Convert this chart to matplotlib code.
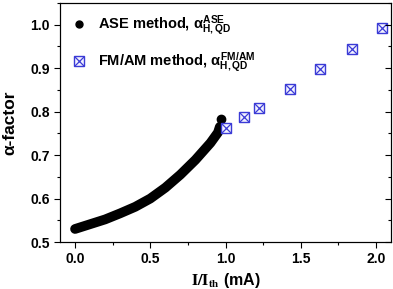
import matplotlib
matplotlib.use('Agg')
import matplotlib.pyplot as plt
from matplotlib.legend_handler import HandlerTuple
from matplotlib.ticker import MultipleLocator

plt.rcParams['font.family'] = ['Liberation Sans', 'DejaVu Sans']
plt.rcParams['font.weight'] = 'bold'
plt.rcParams['mathtext.fontset'] = 'custom'
plt.rcParams['mathtext.rm'] = 'Liberation Sans:bold'
plt.rcParams['mathtext.it'] = 'Liberation Sans:bold'
plt.rcParams['mathtext.bf'] = 'Liberation Sans:bold'

# ASE method curve
ase_x = [0.0, 0.1, 0.2, 0.3, 0.4, 0.5, 0.6, 0.7, 0.8, 0.9, 0.95, 0.962]
ase_y = [0.530, 0.541, 0.552, 0.566, 0.581, 0.600, 0.625, 0.655, 0.689, 0.728, 0.752, 0.765]
ase_end_x = [0.973]
ase_end_y = [0.783]

# FM/AM method points
fm_x = [1.00, 1.12, 1.22, 1.43, 1.63, 1.84, 2.04]
fm_y = [0.763, 0.787, 0.809, 0.851, 0.898, 0.945, 0.993]

fig = plt.figure(figsize=(3.93, 2.89), dpi=100)
ax = fig.add_axes([0.1527, 0.1626, 0.8422, 0.827])

ax.plot(ase_x, ase_y, color='black', lw=7, solid_capstyle='round',
        solid_joinstyle='round', zorder=2)
ax.plot(ase_end_x, ase_end_y, 'o', color='black', ms=6, zorder=3)

blue = '#3b3bd6'
sq = ax.plot(fm_x, fm_y, 's', ms=7.5, mfc='#f2f2ff', mec=blue, mew=1.0, ls='none', zorder=4)[0]
xx = ax.plot(fm_x, fm_y, 'x', ms=7.5, color=blue, mew=0.9, ls='none', zorder=5)[0]
dot = ax.plot([], [], 'o', color='black', ms=5)[0]

ax.legend([dot, (sq, xx)],
          [r'ASE method, $\alpha^{ASE}_{H,QD}$', r'FM/AM method, $\alpha^{FM/AM}_{H,QD}$'],
          handler_map={tuple: HandlerTuple(ndivide=1, pad=0)},
          loc='upper left', bbox_to_anchor=(-0.005, 1.01), frameon=False,
          fontsize=10.5, handlelength=1.0, handletextpad=0.8, labelspacing=0.85)

ax.set_xlim(-0.1, 2.1)
ax.set_ylim(0.5, 1.05)
ax.xaxis.set_major_locator(MultipleLocator(0.5))
ax.xaxis.set_minor_locator(MultipleLocator(0.25))
ax.yaxis.set_major_locator(MultipleLocator(0.1))
ax.yaxis.set_minor_locator(MultipleLocator(0.05))
ax.tick_params(which='both', direction='out', labelsize=10, width=0.8)
ax.tick_params(which='major', length=4)
ax.tick_params(which='minor', length=2.5)
for lab in ax.get_xticklabels() + ax.get_yticklabels():
    lab.set_fontweight('bold')
for s in ax.spines.values():
    s.set_linewidth(0.8)

# inward ticks on the right side
ax2 = ax.twinx()
ax2.set_ylim(ax.get_ylim())
ax2.yaxis.set_major_locator(MultipleLocator(0.1))
ax2.yaxis.set_minor_locator(MultipleLocator(0.05))
ax2.tick_params(which='both', direction='in', labelright=False, width=0.8)
ax2.tick_params(which='major', length=4)
ax2.tick_params(which='minor', length=2.5)

ax.set_xlabel(r'$\mathbf{I/I_{th}}$ (mA)', fontsize=11.5, fontweight='bold',
              math_fontfamily='stix', labelpad=3)
ax.set_ylabel('α-factor', fontsize=12.5, fontweight='bold', labelpad=9)

fig.savefig('out.png', dpi=100)
